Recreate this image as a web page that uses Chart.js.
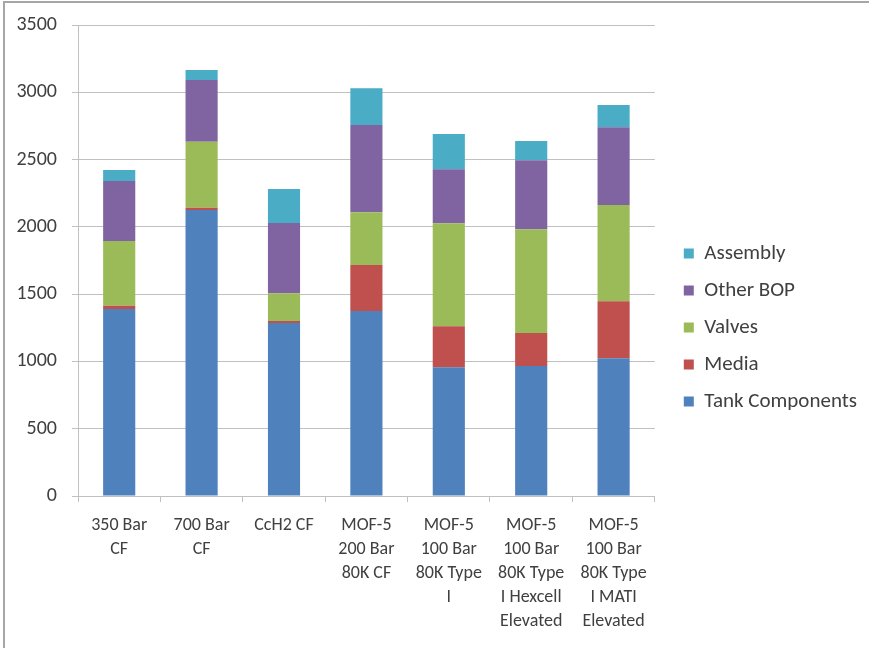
<!DOCTYPE html>
<html>
<head>
<meta charset="utf-8">
<script src="https://cdn.jsdelivr.net/npm/chart.js@4"></script>
<style>
  html, body { margin: 0; padding: 0; background: #fff; }
  #wrap { position: relative; width: 869px; height: 648px; }
  #frame { position: absolute; left: 3px; top: 1px; right: 0; bottom: 0; border-left: 2px solid #a6a6a6; border-top: 2px solid #a6a6a6; pointer-events: none; }
</style>
</head>
<body>
<div id="wrap">
  <canvas id="chart" width="869" height="648"></canvas>
  <div id="frame"></div>
</div>
<script>
const categories = [
  ['350 Bar', 'CF'],
  ['700 Bar', 'CF'],
  ['CcH2 CF'],
  ['MOF-5', '200 Bar', '80K CF'],
  ['MOF-5', '100 Bar', '80K Type', 'I'],
  ['MOF-5', '100 Bar', '80K Type', 'I Hexcell', 'Elevated'],
  ['MOF-5', '100 Bar', '80K Type', 'I MATI', 'Elevated']
];
const tankComponents = [1390, 2125, 1286, 1375, 956, 966, 1023];
const media = [24, 17, 14, 342, 305, 245, 424];
const valves = [481, 491, 206, 391, 766, 771, 715];
const otherBop = [446, 458, 523, 649, 401, 513, 578];
const assembly = [82, 74, 252, 273, 262, 143, 165];

const FONT = 'Carlito, "Liberation Sans", Arial, sans-serif';
const TEXT = '#404040';
const GRID = '#c0c0c0';

const mk = (label, data, color) => ({
  label, data, backgroundColor: color, borderWidth: 0,
  barPercentage: 0.39, categoryPercentage: 1.0
});

// nudge the legend a bit away from the plot, like the Excel original
const legendNudge = {
  id: 'legendNudge',
  afterLayout(chart) {
    const l = chart.legend;
    l.left += 13; l.right += 13;
    l.top -= 9; l.bottom -= 9;
  }
};

new Chart(document.getElementById('chart').getContext('2d'), {
  type: 'bar',
  data: {
    labels: categories,
    datasets: [
      mk('Tank Components', tankComponents, '#4F81BD'),
      mk('Media', media, '#C0504D'),
      mk('Valves', valves, '#9BBB59'),
      mk('Other BOP', otherBop, '#8064A2'),
      mk('Assembly', assembly, '#4BACC6')
    ]
  },
  plugins: [legendNudge],
  options: {
    responsive: false,
    animation: false,
    layout: { padding: { top: 25, left: 0, right: 15, bottom: 0 } },
    plugins: {
      tooltip: { enabled: false },
      legend: {
        position: 'right',
        reverse: true,
        labels: {
          color: TEXT, boxWidth: 10, boxHeight: 10, padding: 16,
          font: { family: FONT, size: 21, lineHeight: '21.6px' }
        }
      }
    },
    scales: {
      x: {
        stacked: true,
        grid: { display: true, drawOnChartArea: false, offset: true, color: GRID, tickLength: 6 },
        border: { color: GRID },
        ticks: { color: TEXT, padding: 12, maxRotation: 0, autoSkip: false, font: { family: FONT, size: 18, lineHeight: 1.333 } },
        afterFit: s => { s.height = 152; }
      },
      y: {
        stacked: true,
        min: 0, max: 3500,
        ticks: { stepSize: 500, color: TEXT, padding: 15, font: { family: FONT, size: 20, lineHeight: '16px' }, callback: v => String(v) },
        grid: { color: GRID, tickLength: 6 },
        border: { color: GRID },
        afterFit: s => { s.width = 78; }
      }
    }
  }
});
</script>
</body>
</html>
